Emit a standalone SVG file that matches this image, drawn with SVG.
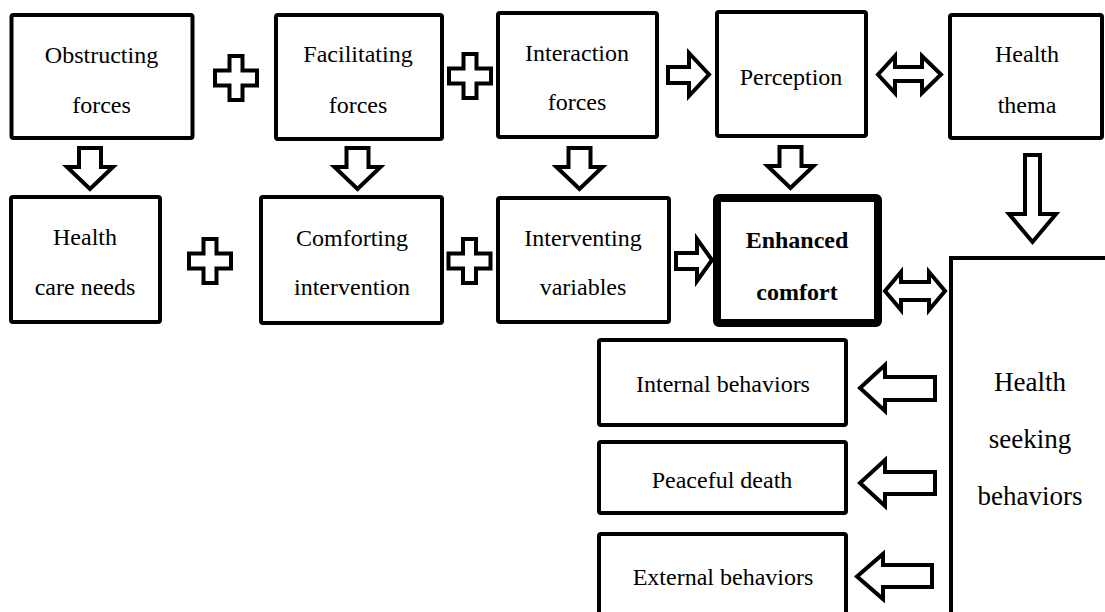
<svg xmlns="http://www.w3.org/2000/svg" width="1105" height="612" viewBox="0 0 1105 612">
<style>
.box{fill:#fff;stroke:#000;stroke-width:4}
.bold{fill:#fff;stroke:#000;stroke-width:8}
.arw{fill:#fff;stroke:#000;stroke-width:4;stroke-linejoin:miter}
text{font-family:"Liberation Serif","Times New Roman",serif;font-size:24px;fill:#000;text-anchor:middle}
.b{font-weight:bold}
.big{font-size:27px}
</style>
<defs>
<path id="plus" d="M-6.5,-22 H6.5 V-7.5 H21 V7.5 H6.5 V22 H-6.5 V7.5 H-21 V-7.5 H-6.5 Z"/>
<path id="down" d="M-11,0 H11 V19 H23 L0,41 L-23,19 H-11 Z"/>
</defs>
<rect width="1105" height="612" fill="#fff"/>
<g id="obstructing"><rect class="box" x="11.5" y="15" width="181" height="123" rx="2"/><text x="101.5" y="63">Obstructing</text><text x="101.5" y="113">forces</text></g>
<g id="facilitating"><rect class="box" x="276" y="15" width="166" height="124" rx="2"/><text x="358" y="62">Facilitating</text><text x="358" y="113">forces</text></g>
<g id="interaction"><rect class="box" x="498" y="13" width="159" height="124" rx="2"/><text x="577" y="61">Interaction</text><text x="577" y="110">forces</text></g>
<g id="perception"><rect class="box" x="717" y="12" width="149" height="124" rx="2"/><text x="791" y="85">Perception</text></g>
<g id="health-thema"><rect class="box" x="950" y="15" width="152" height="123" rx="2"/><text x="1027" y="62">Health</text><text x="1027" y="113">thema</text></g>
<g id="health-care-needs"><rect class="box" x="11" y="197" width="149" height="125" rx="2"/><text x="85" y="245">Health</text><text x="85" y="295">care needs</text></g>
<g id="comforting"><rect class="box" x="261" y="197" width="181" height="126" rx="2"/><text x="352" y="246">Comforting</text><text x="352" y="295">intervention</text></g>
<g id="interventing"><rect class="box" x="498" y="198" width="171" height="124" rx="2"/><text x="583" y="246">Interventing</text><text x="583" y="295">variables</text></g>
<g id="enhanced-comfort"><rect class="bold" x="717" y="198" width="161" height="125" rx="2"/><text class="b" x="797" y="248">Enhanced</text><text class="b" x="797" y="300">comfort</text></g>
<g id="health-seeking"><rect class="box" x="951" y="258" width="200" height="400"/><text class="big" x="1030" y="391">Health</text><text class="big" x="1030" y="448">seeking</text><text class="big" x="1030" y="505">behaviors</text></g>
<g id="internal"><rect class="box" x="599" y="340" width="247" height="85" rx="2"/><text x="723" y="392">Internal behaviors</text></g>
<g id="peaceful"><rect class="box" x="599" y="442" width="247" height="71" rx="2"/><text x="722" y="488">Peaceful death</text></g>
<g id="external"><rect class="box" x="599" y="534" width="247" height="90" rx="2"/><text x="723" y="585">External behaviors</text></g>
<g id="connectors">
<use href="#plus" class="arw" x="236" y="78"/>
<use href="#plus" class="arw" x="470" y="76"/>
<use href="#plus" class="arw" x="210" y="261"/>
<use href="#plus" class="arw" x="469.5" y="261"/>
<use href="#down" class="arw" x="90" y="148"/>
<use href="#down" class="arw" x="357.5" y="148"/>
<use href="#down" class="arw" x="579.5" y="148"/>
<use href="#down" class="arw" x="790.5" y="147"/>
<path class="arw" d="M1025,155 H1040 V214 H1056 L1032.5,242 L1009,214 H1025 Z"/>
<path class="arw" d="M668,67 H689 V53 L709,74.5 L689,96 V83 H668 Z"/>
<path class="arw" d="M676,253 H697 V239 L712,260 L697,281 V269 H676 Z"/>
<path class="arw" d="M878,74.5 L895,56 V67 H922 V56 L941,74.5 L922,93 V81 H895 V93 Z"/>
<path class="arw" d="M885,291 L901,272 V282 H929 V272 L945,291 L929,310 V300 H901 V310 Z"/>
<path class="arw" d="M860,388 L885,365 V377 H935 V400 H885 V411 Z"/>
<path class="arw" d="M860,483 L885,460 V472 H935 V494 H885 V506 Z"/>
<path class="arw" d="M857,576.5 L883,554 V565 H932 V587 H883 V599 Z"/>
</g>
</svg>
